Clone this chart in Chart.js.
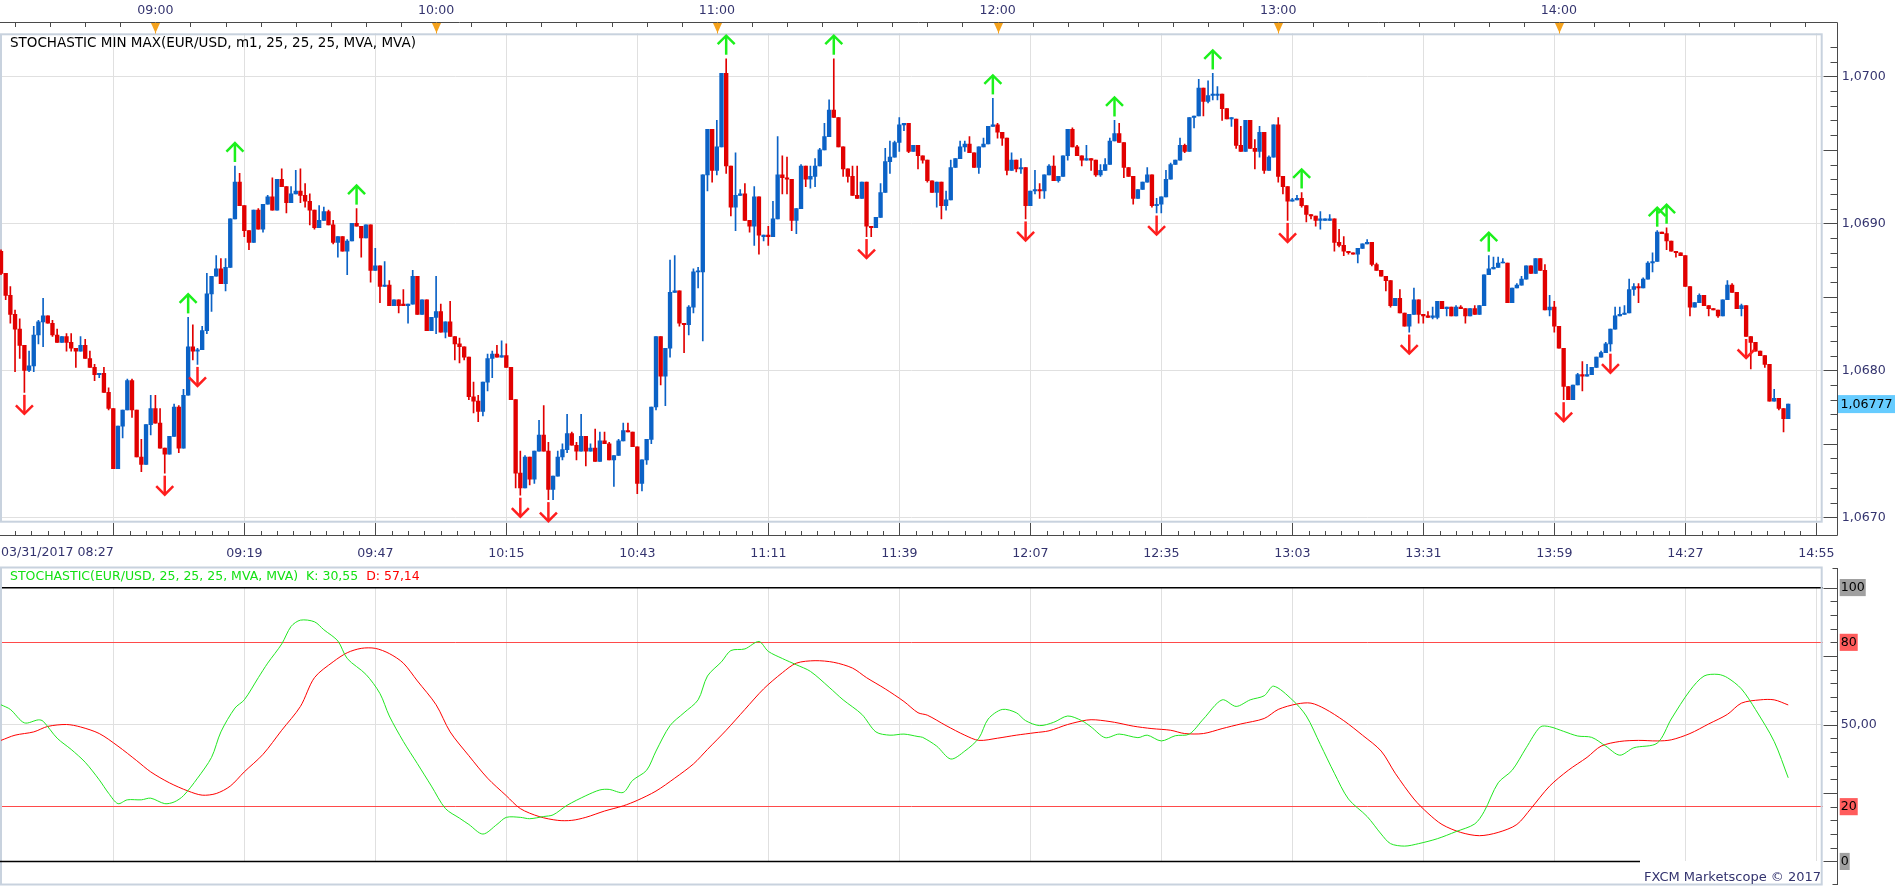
<!DOCTYPE html>
<html><head><meta charset="utf-8">
<script src="https://cdn.jsdelivr.net/npm/chart.js@4.4.1/dist/chart.umd.min.js"></script>
<style>
html,body{margin:0;padding:0;background:#fff;overflow:hidden;width:1903px;height:887px;}
#c1{position:absolute;left:0;top:0;}
#c2{position:absolute;left:0;top:562px;}
</style></head><body>
<canvas id="c1" width="1903" height="562"></canvas>
<canvas id="c2" width="1903" height="325"></canvas>
<script>
// ---------------- DATA ----------------
const instrumentTitle = 'STOCHASTIC MIN MAX(EUR/USD, m1, 25, 25, 25, MVA, MVA)';
const stochTitle = 'STOCHASTIC(EUR/USD, 25, 25, 25, MVA, MVA)';
const dateLabel = '03/31/2017';
const startTime = '08:27';           // time of the first 1-minute candle
const topHourLabels = ['09:00','10:00','11:00','12:00','13:00','14:00'];
const bottomGridTimes = ['08:51','09:19','09:47','10:15','10:43','11:11','11:39','12:07','12:35','13:03','13:31','13:59','14:27','14:55'];
const priceTicks = [1.0670, 1.0680, 1.0690, 1.0700];
const stochLevels = [0, 20, 50, 80, 100];

const open = [
1.06881,1.06866,1.06851,1.06838,1.06828,1.06817,1.06800,1.06803,1.06824,1.06833,
1.06837,1.06832,1.06824,1.06819,1.06823,1.06819,1.06815,1.06813,1.06817,1.06808,
1.06802,1.06797,1.06798,1.06785,1.06774,1.06733,1.06762,1.06773,1.06793,1.06773,
1.06741,1.06736,1.06763,1.06774,1.06764,1.06747,1.06743,1.06755,1.06775,1.06747,
1.06783,1.06816,1.06813,1.06814,1.06827,1.06852,1.06864,1.06869,1.06859,1.06870,
1.06903,1.06928,1.06912,1.06895,1.06887,1.06909,1.06896,1.06913,1.06918,1.06909,
1.06930,1.06925,1.06914,1.06920,1.06922,1.06919,1.06915,1.06909,1.06897,1.06902,
1.06908,1.06899,1.06887,1.06891,1.06881,1.06888,1.06900,1.06898,1.06890,1.06899,
1.06868,1.06871,1.06857,1.06858,1.06844,1.06848,1.06845,1.06844,1.06845,1.06864,
1.06838,1.06848,1.06827,1.06836,1.06840,1.06826,1.06833,1.06823,1.06818,1.06816,
1.06809,1.06782,1.06779,1.06772,1.06792,1.06808,1.06811,1.06809,1.06810,1.06802,
1.06780,1.06730,1.06720,1.06741,1.06726,1.06745,1.06756,1.06745,1.06719,1.06728,
1.06741,1.06746,1.06757,1.06749,1.06745,1.06755,1.06745,1.06747,1.06738,1.06752,
1.06750,1.06739,1.06742,1.06752,1.06759,1.06758,1.06748,1.06723,1.06739,1.06753,
1.06775,1.06823,1.06796,1.06815,1.06853,1.06854,1.06832,1.06831,1.06843,1.06867,
1.06867,1.06933,1.06964,1.06936,1.06952,1.07002,1.06939,1.06911,1.06919,1.06920,
1.06902,1.06898,1.06918,1.06891,1.06892,1.06891,1.06903,1.06933,1.06931,1.06930,
1.06902,1.06910,1.06939,1.06930,1.06932,1.06939,1.06950,1.06959,1.06977,1.06972,
1.06952,1.06937,1.06932,1.06919,1.06917,1.06928,1.06898,1.06897,1.06904,1.06921,
1.06942,1.06945,1.06955,1.06967,1.06968,1.06949,1.06953,1.06946,1.06943,1.06929,
1.06921,1.06928,1.06912,1.06916,1.06938,1.06944,1.06952,1.06954,1.06948,1.06938,
1.06952,1.06954,1.06966,1.06967,1.06962,1.06958,1.06936,1.06943,1.06937,1.06938,
1.06912,1.06922,1.06923,1.06922,1.06933,1.06939,1.06929,1.06932,1.06946,1.06964,
1.06952,1.06946,1.06943,1.06944,1.06943,1.06933,1.06936,1.06940,1.06956,1.06961,
1.06955,1.06938,1.06932,1.06917,1.06923,1.06928,1.06933,1.06912,1.06913,1.06918,
1.06930,1.06940,1.06943,1.06953,1.06949,1.06972,1.06973,1.06992,1.06983,1.06987,
1.06987,1.06988,1.06978,1.06971,1.06971,1.06953,1.06949,1.06970,1.06951,1.06949,
1.06962,1.06936,1.06945,1.06967,1.06932,1.06925,1.06915,1.06916,1.06917,1.06912,
1.06906,1.06905,1.06902,1.06902,1.06902,1.06903,1.06887,1.06885,1.06881,1.06880,
1.06879,1.06883,1.06886,1.06887,1.06872,1.06868,1.06864,1.06861,1.06844,1.06849,
1.06839,1.06830,1.06838,1.06848,1.06838,1.06837,1.06836,1.06836,1.06847,1.06842,
1.06843,1.06837,1.06843,1.06842,1.06837,1.06842,1.06838,1.06844,1.06865,1.06869,
1.06870,1.06873,1.06873,1.06846,1.06856,1.06858,1.06862,1.06871,1.06866,1.06876,
1.06868,1.06841,1.06843,1.06830,1.06815,1.06789,1.06780,1.06790,1.06797,1.06796,
1.06797,1.06802,1.06809,1.06812,1.06818,1.06828,1.06837,1.06838,1.06839,1.06855,
1.06857,1.06856,1.06862,1.06873,1.06874,1.06894,1.06893,1.06888,1.06881,1.06880,
1.06878,1.06857,1.06843,1.06846,1.06851,1.06844,1.06842,1.06841,1.06837,1.06848,
1.06858,1.06853,1.06842,1.06844,1.06823,1.06819,1.06813,1.06810,1.06804,1.06779,
1.06781,1.06774,1.06767];

const high = [
1.06882,1.06866,1.06857,1.06841,1.06835,1.06817,1.06813,1.06830,1.06834,1.06849,
1.06837,1.06834,1.06828,1.06823,1.06825,1.06825,1.06815,1.06823,1.06821,1.06813,
1.06804,1.06798,1.06802,1.06788,1.06774,1.06762,1.06773,1.06794,1.06794,1.06773,
1.06753,1.06763,1.06783,1.06783,1.06774,1.06747,1.06755,1.06777,1.06776,1.06787,
1.06836,1.06831,1.06815,1.06830,1.06866,1.06864,1.06878,1.06876,1.06876,1.06903,
1.06939,1.06934,1.06912,1.06895,1.06909,1.06910,1.06913,1.06919,1.06931,1.06930,
1.06937,1.06925,1.06925,1.06936,1.06937,1.06927,1.06920,1.06909,1.06912,1.06911,
1.06909,1.06902,1.06891,1.06891,1.06889,1.06900,1.06910,1.06898,1.06899,1.06899,
1.06883,1.06871,1.06874,1.06861,1.06848,1.06848,1.06855,1.06845,1.06868,1.06864,
1.06848,1.06848,1.06836,1.06864,1.06845,1.06833,1.06847,1.06823,1.06822,1.06816,
1.06809,1.06792,1.06783,1.06792,1.06811,1.06813,1.06817,1.06820,1.06818,1.06802,
1.06780,1.06745,1.06742,1.06741,1.06745,1.06766,1.06776,1.06751,1.06728,1.06745,
1.06750,1.06770,1.06758,1.06751,1.06770,1.06755,1.06750,1.06760,1.06758,1.06758,
1.06751,1.06742,1.06753,1.06764,1.06764,1.06758,1.06748,1.06739,1.06753,1.06775,
1.06823,1.06823,1.06815,1.06875,1.06878,1.06854,1.06832,1.06844,1.06869,1.06870,
1.06933,1.06964,1.06964,1.06970,1.07002,1.07012,1.06939,1.06948,1.06923,1.06927,
1.06902,1.06925,1.06918,1.06892,1.06898,1.06915,1.06959,1.06946,1.06945,1.06930,
1.06910,1.06940,1.06939,1.06939,1.06944,1.06951,1.06968,1.06984,1.07012,1.06972,
1.06952,1.06937,1.06939,1.06939,1.06928,1.06928,1.06898,1.06904,1.06927,1.06951,
1.06956,1.06956,1.06972,1.06968,1.06968,1.06953,1.06953,1.06946,1.06943,1.06929,
1.06928,1.06928,1.06922,1.06943,1.06944,1.06956,1.06956,1.06959,1.06948,1.06952,
1.06958,1.06966,1.06985,1.06968,1.06962,1.06958,1.06948,1.06943,1.06944,1.06938,
1.06922,1.06936,1.06927,1.06933,1.06940,1.06946,1.06932,1.06946,1.06964,1.06965,
1.06953,1.06946,1.06953,1.06944,1.06943,1.06940,1.06944,1.06958,1.06970,1.06968,
1.06955,1.06938,1.06932,1.06923,1.06928,1.06938,1.06933,1.06917,1.06918,1.06936,
1.06941,1.06943,1.06958,1.06954,1.06972,1.06973,1.06998,1.06992,1.06997,1.07002,
1.06993,1.06988,1.06978,1.06972,1.06971,1.06966,1.06970,1.06970,1.06957,1.06966,
1.06962,1.06946,1.06967,1.06972,1.06932,1.06925,1.06917,1.06919,1.06921,1.06912,
1.06906,1.06905,1.06908,1.06903,1.06906,1.06903,1.06896,1.06891,1.06881,1.06880,
1.06883,1.06886,1.06889,1.06887,1.06873,1.06868,1.06864,1.06861,1.06849,1.06855,
1.06839,1.06838,1.06856,1.06848,1.06838,1.06840,1.06843,1.06847,1.06847,1.06843,
1.06843,1.06844,1.06844,1.06842,1.06842,1.06844,1.06844,1.06865,1.06878,1.06877,
1.06877,1.06876,1.06873,1.06856,1.06859,1.06864,1.06871,1.06871,1.06876,1.06876,
1.06872,1.06851,1.06847,1.06830,1.06815,1.06789,1.06790,1.06798,1.06806,1.06804,
1.06802,1.06809,1.06813,1.06819,1.06828,1.06843,1.06843,1.06844,1.06862,1.06859,
1.06859,1.06863,1.06874,1.06880,1.06895,1.06894,1.06897,1.06888,1.06881,1.06880,
1.06878,1.06857,1.06846,1.06852,1.06851,1.06844,1.06842,1.06841,1.06848,1.06861,
1.06859,1.06853,1.06845,1.06844,1.06823,1.06819,1.06813,1.06810,1.06804,1.06787,
1.06781,1.06774,1.06777];

const low = [
1.06865,1.06848,1.06832,1.06799,1.06808,1.06785,1.06799,1.06799,1.06818,1.06816,
1.06832,1.06823,1.06819,1.06819,1.06813,1.06813,1.06802,1.06813,1.06808,1.06802,
1.06793,1.06795,1.06785,1.06773,1.06733,1.06733,1.06754,1.06773,1.06768,1.06741,
1.06731,1.06736,1.06756,1.06764,1.06747,1.06730,1.06743,1.06755,1.06744,1.06747,
1.06783,1.06807,1.06804,1.06814,1.06825,1.06840,1.06864,1.06859,1.06854,1.06870,
1.06903,1.06912,1.06891,1.06882,1.06887,1.06896,1.06894,1.06913,1.06909,1.06909,
1.06925,1.06907,1.06914,1.06920,1.06914,1.06911,1.06899,1.06896,1.06897,1.06902,
1.06899,1.06886,1.06877,1.06881,1.06865,1.06888,1.06898,1.06877,1.06890,1.06860,
1.06868,1.06846,1.06857,1.06844,1.06844,1.06839,1.06844,1.06832,1.06845,1.06838,
1.06838,1.06827,1.06827,1.06825,1.06826,1.06822,1.06823,1.06807,1.06805,1.06807,
1.06780,1.06771,1.06765,1.06769,1.06786,1.06795,1.06809,1.06809,1.06802,1.06780,
1.06720,1.06715,1.06720,1.06722,1.06723,1.06745,1.06745,1.06712,1.06712,1.06728,
1.06739,1.06744,1.06749,1.06739,1.06745,1.06735,1.06745,1.06738,1.06738,1.06750,
1.06739,1.06721,1.06742,1.06752,1.06758,1.06748,1.06716,1.06718,1.06736,1.06750,
1.06773,1.06790,1.06776,1.06809,1.06853,1.06830,1.06812,1.06824,1.06839,1.06856,
1.06820,1.06922,1.06928,1.06933,1.06952,1.06934,1.06905,1.06895,1.06919,1.06902,
1.06894,1.06885,1.06879,1.06888,1.06885,1.06891,1.06903,1.06920,1.06920,1.06895,
1.06893,1.06910,1.06925,1.06924,1.06925,1.06939,1.06950,1.06959,1.06972,1.06952,
1.06932,1.06928,1.06919,1.06917,1.06917,1.06891,1.06891,1.06897,1.06904,1.06921,
1.06934,1.06945,1.06949,1.06963,1.06948,1.06949,1.06937,1.06941,1.06928,1.06921,
1.06911,1.06903,1.06909,1.06916,1.06938,1.06944,1.06949,1.06948,1.06938,1.06934,
1.06952,1.06954,1.06966,1.06958,1.06953,1.06933,1.06936,1.06935,1.06934,1.06903,
1.06912,1.06920,1.06917,1.06917,1.06933,1.06929,1.06928,1.06932,1.06943,1.06952,
1.06946,1.06939,1.06943,1.06936,1.06932,1.06932,1.06936,1.06940,1.06956,1.06955,
1.06931,1.06932,1.06913,1.06917,1.06923,1.06928,1.06911,1.06907,1.06907,1.06918,
1.06930,1.06940,1.06943,1.06948,1.06949,1.06965,1.06973,1.06973,1.06982,1.06984,
1.06984,1.06970,1.06971,1.06966,1.06951,1.06949,1.06949,1.06951,1.06937,1.06945,
1.06934,1.06936,1.06945,1.06928,1.06920,1.06902,1.06915,1.06916,1.06911,1.06901,
1.06903,1.06898,1.06896,1.06902,1.06902,1.06881,1.06884,1.06878,1.06879,1.06879,
1.06873,1.06883,1.06886,1.06871,1.06868,1.06864,1.06854,1.06843,1.06844,1.06839,
1.06830,1.06826,1.06838,1.06832,1.06832,1.06836,1.06835,1.06835,1.06842,1.06837,
1.06837,1.06837,1.06842,1.06832,1.06837,1.06838,1.06838,1.06844,1.06865,1.06869,
1.06870,1.06873,1.06846,1.06846,1.06856,1.06858,1.06862,1.06866,1.06866,1.06868,
1.06841,1.06837,1.06826,1.06815,1.06780,1.06780,1.06780,1.06790,1.06786,1.06796,
1.06797,1.06802,1.06809,1.06812,1.06813,1.06828,1.06837,1.06838,1.06839,1.06851,
1.06846,1.06856,1.06862,1.06867,1.06874,1.06893,1.06882,1.06881,1.06877,1.06878,
1.06857,1.06837,1.06843,1.06846,1.06844,1.06837,1.06841,1.06836,1.06837,1.06848,
1.06853,1.06842,1.06837,1.06823,1.06801,1.06813,1.06810,1.06802,1.06779,1.06779,
1.06773,1.06758,1.06767];

const close = [
1.06866,1.06851,1.06838,1.06828,1.06817,1.06800,1.06803,1.06824,1.06833,1.06837,
1.06832,1.06824,1.06819,1.06823,1.06819,1.06815,1.06813,1.06817,1.06808,1.06802,
1.06797,1.06798,1.06785,1.06774,1.06733,1.06762,1.06773,1.06793,1.06773,1.06741,
1.06736,1.06763,1.06774,1.06764,1.06747,1.06743,1.06755,1.06775,1.06747,1.06783,
1.06816,1.06813,1.06814,1.06827,1.06852,1.06864,1.06869,1.06859,1.06870,1.06903,
1.06928,1.06912,1.06895,1.06887,1.06909,1.06896,1.06913,1.06918,1.06909,1.06930,
1.06925,1.06914,1.06920,1.06922,1.06919,1.06915,1.06909,1.06897,1.06902,1.06908,
1.06899,1.06887,1.06891,1.06881,1.06888,1.06900,1.06898,1.06890,1.06899,1.06868,
1.06871,1.06857,1.06858,1.06844,1.06848,1.06844,1.06844,1.06845,1.06864,1.06838,
1.06848,1.06827,1.06836,1.06840,1.06826,1.06833,1.06823,1.06818,1.06816,1.06809,
1.06782,1.06779,1.06772,1.06792,1.06808,1.06811,1.06809,1.06810,1.06802,1.06780,
1.06730,1.06720,1.06741,1.06726,1.06745,1.06756,1.06745,1.06719,1.06728,1.06741,
1.06746,1.06757,1.06749,1.06745,1.06755,1.06745,1.06747,1.06738,1.06752,1.06750,
1.06739,1.06742,1.06752,1.06759,1.06758,1.06748,1.06723,1.06739,1.06753,1.06775,
1.06823,1.06796,1.06815,1.06853,1.06854,1.06832,1.06831,1.06843,1.06867,1.06867,
1.06933,1.06964,1.06936,1.06952,1.07002,1.06939,1.06911,1.06919,1.06920,1.06902,
1.06898,1.06918,1.06892,1.06892,1.06891,1.06903,1.06933,1.06931,1.06930,1.06902,
1.06910,1.06939,1.06930,1.06932,1.06939,1.06950,1.06959,1.06977,1.06972,1.06952,
1.06937,1.06932,1.06919,1.06917,1.06928,1.06898,1.06897,1.06904,1.06921,1.06942,
1.06945,1.06955,1.06967,1.06968,1.06949,1.06953,1.06946,1.06943,1.06929,1.06921,
1.06928,1.06912,1.06916,1.06938,1.06944,1.06952,1.06954,1.06948,1.06938,1.06952,
1.06954,1.06966,1.06967,1.06962,1.06958,1.06936,1.06943,1.06937,1.06938,1.06912,
1.06922,1.06923,1.06922,1.06933,1.06939,1.06929,1.06932,1.06946,1.06964,1.06952,
1.06946,1.06943,1.06944,1.06943,1.06933,1.06936,1.06940,1.06956,1.06961,1.06955,
1.06938,1.06932,1.06917,1.06923,1.06928,1.06933,1.06912,1.06913,1.06918,1.06930,
1.06940,1.06943,1.06953,1.06949,1.06972,1.06973,1.06992,1.06983,1.06987,1.06988,
1.06988,1.06978,1.06971,1.06972,1.06953,1.06949,1.06970,1.06951,1.06949,1.06962,
1.06936,1.06945,1.06967,1.06932,1.06925,1.06915,1.06916,1.06917,1.06912,1.06906,
1.06905,1.06902,1.06903,1.06903,1.06903,1.06887,1.06885,1.06881,1.06880,1.06879,
1.06883,1.06886,1.06887,1.06872,1.06868,1.06864,1.06861,1.06844,1.06849,1.06839,
1.06830,1.06838,1.06848,1.06838,1.06837,1.06836,1.06837,1.06847,1.06842,1.06843,
1.06837,1.06843,1.06842,1.06837,1.06842,1.06838,1.06844,1.06865,1.06869,1.06870,
1.06873,1.06873,1.06846,1.06856,1.06858,1.06862,1.06871,1.06866,1.06876,1.06868,
1.06841,1.06843,1.06830,1.06815,1.06789,1.06780,1.06790,1.06797,1.06796,1.06797,
1.06802,1.06809,1.06812,1.06818,1.06828,1.06837,1.06838,1.06839,1.06855,1.06857,
1.06856,1.06862,1.06873,1.06874,1.06894,1.06893,1.06888,1.06881,1.06880,1.06878,
1.06857,1.06843,1.06846,1.06851,1.06844,1.06842,1.06841,1.06837,1.06848,1.06858,
1.06853,1.06842,1.06844,1.06823,1.06819,1.06813,1.06810,1.06804,1.06779,1.06781,
1.06774,1.06767,1.06777];

// candle indices flagged by the indicator
const upSignals = [40, 50, 76, 155, 178, 212, 238, 259, 278, 318, 354, 356];
const downSignals = [5, 35, 42, 111, 117, 185, 219, 247, 275, 301, 334, 344, 373];

// stochastic %K and %D : [candle index, value]
const stochK = [[0,57.2],[2,55.5],[5,50.6],[8,51.7],[9,51.2],[12,45.0],[15,40.9],[18,36.2],[21,29.8],[23,24.9],[25,21.1],[27,22.5],[30,22.5],[32,23.1],[35,21.1],[37,21.7],[39,24.0],[42,30.4],[45,38.0],[47,47.3],[50,56.0],[52,59.0],[55,67.1],[57,72.4],[60,79.4],[62,85.8],[64,88.1],[67,87.5],[69,84.6],[72,80.5],[74,74.1],[78,68.3],[81,61.3],[83,53.1],[86,43.8],[89,35.7],[92,27.5],[95,19.3],[98,15.8],[100,13.5],[103,10.0],[106,13.5],[108,16.1],[111,16.1],[113,15.6],[116,16.4],[118,17.0],[121,20.5],[125,24.0],[128,26.1],[130,26.3],[133,25.2],[135,29.6],[138,33.3],[140,40.3],[143,49.6],[146,54.3],[149,59.0],[151,67.7],[154,72.9],[156,77.0],[159,77.6],[162,80.3],[164,76.7],[167,74.1],[170,71.8],[173,69.4],[177,63.6],[180,59.0],[184,53.7],[187,47.3],[190,46.1],[193,46.5],[196,45.6],[197,45.3],[200,42.1],[203,37.4],[206,40.3],[209,45.0],[211,52.0],[214,55.5],[217,54.3],[219,51.4],[222,49.6],[225,50.8],[228,53.1],[231,51.4],[233,49.1],[236,45.2],[239,46.5],[243,45.2],[245,46.1],[248,44.0],[251,45.9],[254,46.5],[257,52.0],[261,59.0],[264,56.6],[267,59.0],[270,60.5],[272,64.0],[276,59.0],[279,53.1],[282,42.7],[285,32.2],[288,22.8],[292,16.4],[295,10.0],[297,6.5],[300,5.6],[303,6.5],[307,8.3],[311,10.9],[315,13.7],[317,18.2],[320,28.7],[323,33.3],[326,41.5],[329,49.1],[331,49.2],[334,47.5],[337,45.8],[340,45.3],[343,42.1],[346,38.8],[349,41.5],[354,43.2],[357,52.0],[361,62.4],[364,67.7],[367,68.3],[369,67.1],[372,63.0],[375,55.5],[379,43.8],[382,30.55]];
const stochD = [[0,44.2],[3,46.1],[7,47.3],[10,49.3],[14,50.0],[17,49.1],[21,46.7],[25,42.1],[29,36.8],[32,32.7],[36,28.7],[40,25.7],[43,24.2],[46,24.8],[49,27.5],[52,32.7],[56,39.1],[60,47.9],[64,56.6],[67,67.1],[71,72.9],[74,76.2],[77,77.8],[80,77.8],[83,75.9],[86,72.4],[89,65.9],[93,57.2],[96,47.3],[100,38.6],[104,30.4],[108,24.0],[111,19.3],[115,16.4],[119,15.0],[122,15.0],[125,16.1],[129,18.4],[133,20.3],[136,22.3],[140,25.7],[144,30.4],[148,35.6],[151,40.9],[155,47.9],[159,55.5],[163,63.0],[167,68.9],[170,72.4],[174,73.3],[178,72.7],[182,70.6],[185,67.1],[189,63.0],[193,58.4],[196,54.3],[198,53.4],[202,49.6],[206,46.1],[209,44.2],[213,45.0],[217,46.1],[221,47.0],[224,47.7],[228,50.0],[232,51.6],[234,51.7],[238,50.8],[242,49.4],[246,48.5],[250,47.9],[253,46.7],[257,46.7],[261,48.5],[265,50.2],[270,52.2],[273,55.5],[277,57.5],[280,57.8],[283,55.7],[287,51.4],[291,46.1],[295,40.3],[298,32.2],[302,22.8],[305,17.6],[308,13.5],[312,10.6],[316,9.4],[320,10.6],[324,13.5],[327,19.3],[331,27.5],[335,33.3],[339,38.0],[342,42.1],[346,43.8],[350,44.2],[354,44.0],[357,44.4],[361,46.7],[365,50.2],[369,53.7],[372,57.8],[376,59.0],[379,59.0],[382,57.14]];

// ---------------- STYLE ----------------
const FONT = 'DejaVu Sans';
const AX_FONT_SIZE = 12.6;
Chart.defaults.font.family = FONT;
Chart.defaults.font.size = AX_FONT_SIZE;
const NAVY = '#33336e', AXIS = '#4a4a4a', GRID = '#e0e0e0', FRAME = '#c8d2de';
const RED = '#e10000', BLUE = '#0b62c6', ORANGE = '#f5a21c';
const K_COLOR = '#22e622', D_COLOR = '#ff0000', TXT_GREEN = '#14e014';
const X_MIN = -0.2137, X_MAX = 389.37;
const Y_MIN = 1.066963, Y_MAX = 1.070293;
const AXIS_X = 1837.5;

const toMin = t => { const [h, m] = t.split(':').map(Number); return h * 60 + m; };
const idxOf = t => toMin(t) - toMin(startTime);
const bottomTicks = bottomGridTimes.map(idxOf);
const topTicks = topHourLabels.map(idxOf);
const comma = (v, d) => v.toFixed(d).replace('.', ',');
const N = close.length;
const candleColors = close.map((c, i) => c >= open[i] ? BLUE : RED);

function hline(ctx, x1, x2, y) { ctx.beginPath(); ctx.moveTo(x1, y); ctx.lineTo(x2, y); ctx.stroke(); }
function vline(ctx, x, y1, y2) { ctx.beginPath(); ctx.moveTo(x, y1); ctx.lineTo(x, y2); ctx.stroke(); }

function drawArrow(ctx, x, yStart, dir, color) {
  // dir = -1 : up arrow (tip above), +1 : down arrow (tip below)
  const len = 19, head = 8.5;
  const tip = yStart + dir * len;
  ctx.strokeStyle = color; ctx.lineWidth = 2.5; ctx.lineCap = 'butt'; ctx.lineJoin = 'miter';
  ctx.beginPath(); ctx.moveTo(x, yStart); ctx.lineTo(x, tip); ctx.stroke();
  ctx.beginPath(); ctx.moveTo(x - head, tip - dir * head); ctx.lineTo(x, tip); ctx.lineTo(x + head, tip - dir * head); ctx.stroke();
}

const pricePlugin = {
  id: 'priceDecor',
  beforeDraw(chart) { const c = chart.ctx; c.save(); c.fillStyle = '#fff'; c.fillRect(0, 0, chart.width, chart.height); c.restore(); },
  beforeDatasetsDraw(chart) {
    const { ctx, chartArea: a } = chart;
    ctx.save(); ctx.strokeStyle = FRAME; ctx.lineWidth = 2;
    ctx.strokeRect(a.left + 1, a.top + 1, a.right - a.left - 2, a.bottom - a.top - 2);
    ctx.restore();
  },
  afterDraw(chart) {
    const { ctx, chartArea: a, scales } = chart;
    const xs = scales.x, ys = scales.y;
    ctx.save();
    ctx.strokeStyle = AXIS; ctx.lineWidth = 1;
    // top time axis
    const topY = 22.5;
    hline(ctx, 0, AXIS_X, topY);
    for (let k = -8; k < 60; k++) {
      const v = topTicks[0] + k * 7.5;
      if (v < X_MIN || v > X_MAX) continue;
      const px = Math.round(xs.getPixelForValue(v)) + 0.5;
      vline(ctx, px, topY, topY + 4.5);
    }
    ctx.fillStyle = ORANGE;
    topTicks.forEach(v => {
      const px = Math.round(xs.getPixelForValue(v)) + 0.5;
      ctx.beginPath(); ctx.moveTo(px - 4.5, topY + 0.5); ctx.lineTo(px + 4.5, topY + 0.5); ctx.lineTo(px, topY + 10.5); ctx.closePath(); ctx.fill();
      ctx.fillRect(px - 0.5, topY, 1, 11);
    });
    // bottom time axis
    const botY = 535.5;
    ctx.strokeStyle = AXIS;
    hline(ctx, 0, AXIS_X, botY);
    for (let k = -8; k < 120; k++) {
      const v = bottomTicks[0] + k * 3.5;
      if (v < X_MIN || v > X_MAX) continue;
      const px = Math.round(xs.getPixelForValue(v)) + 0.5;
      vline(ctx, px, botY - 4.5, botY);
    }
    ctx.fillStyle = NAVY; ctx.font = AX_FONT_SIZE + 'px ' + FONT; ctx.textAlign = 'left'; ctx.textBaseline = 'middle';
    ctx.fillText(dateLabel + ' ' + startTime, 1, 553);
    // right price axis
    vline(ctx, AXIS_X, topY, botY);
    for (let k = 10669; k <= 10703; k++) {
      const py = ys.getPixelForValue(k / 10000);
      if (py < a.top || py > a.bottom) continue;
      const len = (k % 5 === 0) ? 14 : 7;
      hline(ctx, AXIS_X - len, AXIS_X, Math.round(py) + 0.5);
    }
    // last price box
    const lp = close[N - 1];
    const ly = ys.getPixelForValue(lp);
    ctx.fillStyle = '#66ccff'; ctx.fillRect(AXIS_X + 0.5, ly - 9, 57, 18);
    ctx.fillStyle = '#000'; ctx.fillText(comma(lp, 5), AXIS_X + 3, ly + 0.5);
    // title
    ctx.fillStyle = '#000'; ctx.font = '13.5px ' + FONT;
    ctx.fillText(instrumentTitle, 10, 43.5);
    // signal arrows
    upSignals.forEach(i => drawArrow(ctx, xs.getPixelForValue(i), ys.getPixelForValue(high[i]) - 4, -1, '#1cf01c'));
    downSignals.forEach(i => drawArrow(ctx, xs.getPixelForValue(i), ys.getPixelForValue(low[i]) + 2.5, 1, '#ff1e1e'));
    ctx.restore();
  }
};

new Chart(document.getElementById('c1'), {
  type: 'bar',
  data: { datasets: [
    { label: 'range', data: close.map((c, i) => ({ x: i, y: [low[i], high[i]] })), backgroundColor: candleColors, barThickness: 1, grouped: false, order: 2, borderWidth: 0 },
    { label: 'body', data: close.map((c, i) => ({ x: i, y: [open[i], c] })), backgroundColor: candleColors, barThickness: 3.7, minBarLength: 1, grouped: false, order: 1, borderWidth: 0 }
  ] },
  options: {
    responsive: false, animation: false, devicePixelRatio: 1, events: [],
    layout: { padding: 0 },
    plugins: { legend: { display: false }, tooltip: { enabled: false } },
    scales: {
      x: { type: 'linear', position: 'bottom', min: X_MIN, max: X_MAX, offset: false,
        afterFit: s => { s.height = 39.3; },
        afterBuildTicks: s => { s.ticks = bottomTicks.map(v => ({ value: v })); },
        ticks: { autoSkip: false, maxRotation: 0, padding: 11, color: NAVY, callback: (v, i) => i === 0 ? '' : bottomGridTimes[i] },
        grid: { color: GRID, offset: false, tickLength: 12, tickColor: AXIS, drawTicks: true },
        border: { display: false } },
      xTop: { type: 'linear', position: 'top', min: X_MIN, max: X_MAX, offset: false,
        afterFit: s => { s.height = 33.3; },
        afterBuildTicks: s => { s.ticks = topTicks.map(v => ({ value: v })); },
        ticks: { autoSkip: false, maxRotation: 0, padding: 15, color: NAVY, callback: (v, i) => topHourLabels[i] },
        grid: { drawOnChartArea: false, drawTicks: false }, border: { display: false } },
      y: { type: 'linear', position: 'right', min: Y_MIN, max: Y_MAX, beginAtZero: false,
        afterFit: s => { s.width = 1903 - 1822.7; },
        afterBuildTicks: s => { s.ticks = priceTicks.map(v => ({ value: v })); },
        ticks: { padding: 19, color: NAVY, callback: v => comma(v, 4) },
        grid: { color: GRID, drawTicks: false }, border: { display: false } }
    }
  },
  plugins: [pricePlugin]
});

// ---------------- STOCHASTIC PANEL ----------------
const stochPlugin = {
  id: 'stochDecor',
  beforeDraw(chart) { const c = chart.ctx; c.save(); c.fillStyle = '#fff'; c.fillRect(0, 0, chart.width, chart.height); c.restore(); },
  beforeDatasetsDraw(chart) {
    const { ctx, chartArea: a, scales } = chart;
    ctx.save();
    ctx.strokeStyle = FRAME; ctx.lineWidth = 2;
    ctx.strokeRect(a.left + 1, 5.5, a.right - a.left - 2, 317);
    const y0 = Math.round(scales.y.getPixelForValue(0)) + 0.5;
    ctx.strokeStyle = '#000'; ctx.lineWidth = 1.5;
    hline(ctx, 0, 1640, y0);
    ctx.restore();
  },
  afterDraw(chart) {
    const { ctx, scales } = chart;
    const ys = scales.y;
    ctx.save();
    ctx.strokeStyle = AXIS; ctx.lineWidth = 1;
    vline(ctx, AXIS_X, 6, 323);
    hline(ctx, AXIS_X - 5, AXIS_X, 6.5);
    hline(ctx, AXIS_X - 5, AXIS_X, 322.5);
    for (let v = 0; v <= 100; v += 5) {
      const py = Math.round(ys.getPixelForValue(v)) + 0.5;
      hline(ctx, AXIS_X - (v % 25 === 0 ? 14 : 7), AXIS_X, py);
    }
    ctx.font = '12.5px ' + FONT; ctx.textBaseline = 'middle'; ctx.textAlign = 'left';
    const t1 = stochTitle + '  K: ' + comma(stochK[stochK.length - 1][1], 2) + '  ';
    ctx.fillStyle = TXT_GREEN; ctx.fillText(t1, 10, 15);
    ctx.fillStyle = '#ff0000'; ctx.fillText('D: ' + comma(stochD[stochD.length - 1][1], 2), 10 + ctx.measureText(t1).width, 15);
    ctx.fillStyle = NAVY; ctx.font = '13px ' + FONT; ctx.textAlign = 'right';
    ctx.fillText('FXCM Marketscope \u00a9 2017', 1821, 316);
    ctx.restore();
  }
};

const levelColor = v => v === 100 ? '#000' : (v === 80 || v === 20) ? '#ff4a4a' : v === 50 ? GRID : 'rgba(0,0,0,0)';
new Chart(document.getElementById('c2'), {
  type: 'line',
  data: { datasets: [
    { label: 'K', data: stochK.map(([x, y]) => ({ x, y })), borderColor: K_COLOR, borderWidth: 1, pointRadius: 0, tension: 0.3, fill: false },
    { label: 'D', data: stochD.map(([x, y]) => ({ x, y })), borderColor: D_COLOR, borderWidth: 1, pointRadius: 0, tension: 0.3, fill: false }
  ] },
  options: {
    responsive: false, animation: false, devicePixelRatio: 1, events: [],
    layout: { padding: { top: 22.3, left: 0, right: 0, bottom: 0 } },
    plugins: { legend: { display: false }, tooltip: { enabled: false } },
    scales: {
      x: { type: 'linear', min: X_MIN, max: X_MAX, offset: false,
        afterFit: s => { s.height = 16.7; },
        afterBuildTicks: s => { s.ticks = bottomTicks.map(v => ({ value: v })); },
        ticks: { display: false }, grid: { color: GRID, drawTicks: false }, border: { display: false } },
      y: { type: 'linear', position: 'right', min: 0, max: 100,
        afterFit: s => { s.width = 1903 - 1822.7; },
        afterBuildTicks: s => { s.ticks = stochLevels.map(v => ({ value: v })); },
        ticks: { padding: 18,
          callback: v => v === 50 ? comma(v, 2) : String(v),
          color: c => c.tick && c.tick.value === 50 ? NAVY : '#000',
          showLabelBackdrop: c => !!c.tick && c.tick.value !== 50,
          backdropColor: c => c.tick && (c.tick.value === 80 || c.tick.value === 20) ? '#ff5c5c' : '#a0a0a0',
          backdropPadding: { top: 1, bottom: 1, left: 1, right: 1 } },
        grid: { drawTicks: false, color: c => levelColor(c.tick ? c.tick.value : -1), lineWidth: c => c.tick && c.tick.value === 100 ? 1.5 : 1 },
        border: { display: false } }
    }
  },
  plugins: [stochPlugin]
});
</script>
</body></html>
